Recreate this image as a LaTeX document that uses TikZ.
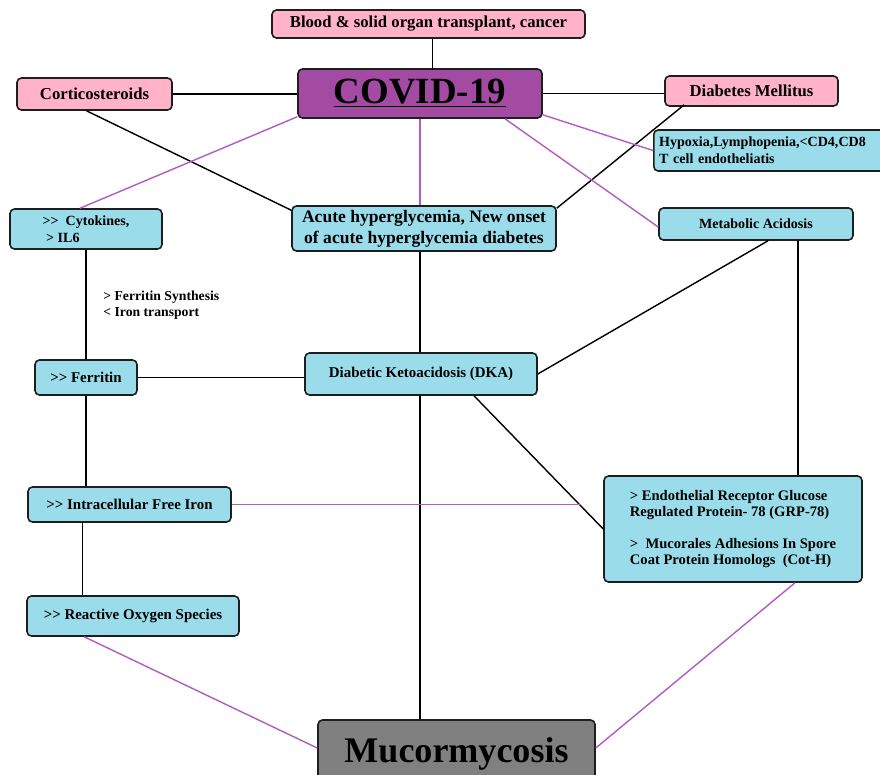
\documentclass[tikz,border=0pt]{standalone}
\usepackage{fontspec}
\setmainfont[Ligatures=TeXOff]{Liberation Serif}
\usepackage{tikz}
\usetikzlibrary{shapes,arrows,positioning,calc,shadows}

\definecolor{riskpink}{RGB}{255,178,200}
\definecolor{stepblue}{RGB}{155,220,235}
\definecolor{covidpurple}{RGB}{163,74,163}
\definecolor{linkpurple}{RGB}{176,92,192}
\definecolor{mucogray}{RGB}{128,128,128}
\definecolor{boxedge}{RGB}{30,30,30}

\tikzset{
  box/.style={draw=boxedge, line width=0.9pt, rounded corners=2.5pt, inner sep=2pt,
    font=\bfseries\fontsize{8.5}{10}\selectfont},
  riskbox/.style={box, fill=riskpink, font=\bfseries\fontsize{9.5}{11}\selectfont},
  stepbox/.style={box, fill=stepblue},
  link/.style={draw=black, line width=0.8pt},
  plink/.style={draw=linkpurple, line width=0.8pt}
}

\begin{document}
\begin{tikzpicture}[x=0.02cm, y=-0.02cm]
  \useasboundingbox (0,0) rectangle (880,775);

  % top row
  \node[riskbox, minimum width=6.26cm, minimum height=0.56cm] (blood) at (428.5,24) {Blood \& solid organ transplant, cancer};
  \node[box, fill=covidpurple, minimum width=4.88cm, minimum height=0.98cm,
        font=\bfseries\fontsize{21}{24}\selectfont] (covid) at (420,93.5) {\underline{COVID-19}};
  \node[riskbox, minimum width=3.1cm, minimum height=0.64cm] (cortico) at (94.5,94) {Corticosteroids};
  \node[riskbox, minimum width=3.46cm, minimum height=0.6cm] (dm) at (751.5,91) {Diabetes Mellitus};
  \node[stepbox, anchor=west, text width=4.8cm, minimum height=0.82cm, align=left, inner xsep=3pt,
        font=\bfseries\fontsize{8}{9.5}\selectfont] (hyp) at (653,150.5) {Hypoxia,Lymphopenia,<CD4,CD8\\T cell endotheliatis};

  % second row
  \node[stepbox, minimum width=3.04cm, minimum height=0.8cm, align=left,
        font=\bfseries\fontsize{8}{9.5}\selectfont] (cyto) at (86,229) {>>\ \ Cytokines,\\\ > IL6};
  \node[stepbox, minimum width=5.28cm, minimum height=0.9cm, align=center,
        font=\bfseries\fontsize{10}{12}\selectfont] (acute) at (424,228.5) {Acute hyperglycemia, New onset\\of acute hyperglycemia diabetes};
  \node[stepbox, minimum width=3.88cm, minimum height=0.64cm,
        font=\bfseries\fontsize{8}{9.5}\selectfont] (meta) at (756,224) {Metabolic Acidosis};

  \node[anchor=west, align=left, inner sep=0pt,
        font=\bfseries\fontsize{7.8}{9}\selectfont] (fsyn) at (103,305) {> Ferritin Synthesis\\< Iron transport};

  % middle
  \node[stepbox, minimum width=2.04cm, minimum height=0.7cm] (ferr) at (86,377.5) {>> Ferritin};
  \node[stepbox, minimum width=4.64cm, minimum height=0.84cm] (dka) at (421,374) {Diabetic Ketoacidosis (DKA)};
  \node[stepbox, minimum width=4.06cm, minimum height=0.7cm] (iron) at (129.5,504.5) {>> Intracellular Free Iron};
  \node[stepbox, minimum width=5.16cm, minimum height=2.12cm, align=left,
        font=\bfseries\fontsize{8.3}{9.2}\selectfont] (endo) at (733,529)
        {> Endothelial Receptor Glucose\\Regulated Protein- 78 (GRP-78)\\[9.2pt]>\ \ Mucorales Adhesions In Spore\\Coat Protein Homologs\ \ (Cot-H)};
  \node[stepbox, minimum width=4.24cm, minimum height=0.8cm] (ros) at (133,616) {>> Reactive Oxygen Species};

  % bottom
  \node[box, fill=mucogray, minimum width=5.54cm, minimum height=1.2cm, text depth=0pt,
        font=\bfseries\fontsize{20.5}{24}\selectfont] (muco) at (456.5,750) {Mucormycosis};

  \coordinate (ironend) at (580,504.5);

  % black connectors
  \draw[link] (blood.south) ++(4,0) -- ++(0,31);
  \draw[link] (cortico.east) -- (cortico.east -| covid.west);
  \draw[link] (covid.east) -- (covid.east -| dm.west);
  \draw[link] ($(cortico.south)+(-8,0)$) -- ($(acute.north west)+(0,5)$);
  \draw[link] ($(dm.south west)+(20,-2)$) -- ($(acute.north east)+(0,3)$);
  \draw[link] (cyto.south) -- (cyto.south |- ferr.north);
  \draw[link] ($(acute.south)+(-4,0)$) -- ($(acute.south |- dka.north)+(-4,0)$);
  \draw[link] (ferr.east) -- (ferr.east -| dka.west);
  \draw[link] ($(meta.south)+(12,0)$) -- (dka.east);
  \draw[link] ($(meta.south)+(42,0)$) -- ($(meta.south |- endo.north)+(42,0)$);
  \draw[link] ($(dka.south)+(53,0)$) -- (endo.west);
  \draw[link] ($(dka.south)+(-1,0)$) -- ($(dka.south |- muco.north)+(-1,0)$);
  \draw[link] (ferr.south) -- (ferr.south |- iron.north);
  \draw[link] ($(iron.south west)+(55,0)$) -- ($(iron.south west |- ros.north)+(55,0)$);

  % purple connectors
  \draw[plink] ($(covid.south west)+(0,-2)$) -- ($(cyto.north)+(-6,0)$);
  \draw[plink] (covid.south) -- (covid.south |- acute.north);
  \draw[plink] ($(covid.south)+(85,0)$) -- ($(meta.west)+(0,3)$);
  \draw[plink] ($(covid.south east)+(0,-4)$) -- (hyp.west);
  \draw[plink] (iron.east) -- (ironend);
  \draw[plink] ($(ros.south west)+(58,0)$) -- ($(muco.west)+(0,-2)$);
  \draw[plink] ($(endo.south)+(62,0)$) -- ($(muco.east)+(0,-2)$);
\end{tikzpicture}
\end{document}
